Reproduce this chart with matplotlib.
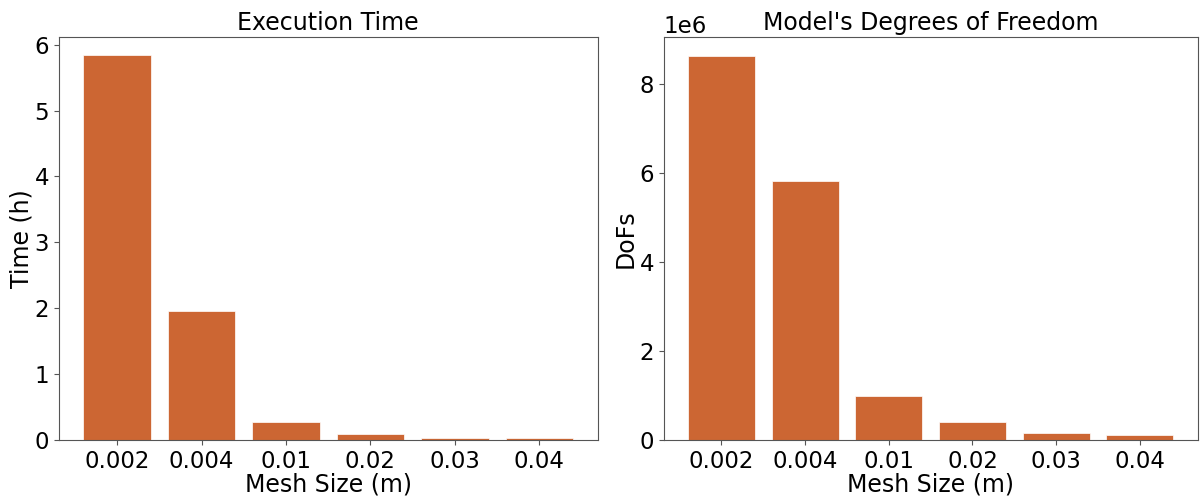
import matplotlib
matplotlib.use('Agg')
import matplotlib.pyplot as plt

# Mesh sizes and results
mesh_sizes = ['0.002', '0.004', '0.01', '0.02', '0.03', '0.04']
exec_time_h = [5.84, 1.95, 0.27, 0.09, 0.035, 0.035]
dofs = [8.63e6, 5.82e6, 0.99e6, 0.40e6, 0.165e6, 0.10e6]

bar_color = '#CC6633'

fig = plt.figure(figsize=(12, 4.97), dpi=100)
ax1 = fig.add_axes([0.049, 0.115, 0.449, 0.811])
ax2 = fig.add_axes([0.553, 0.115, 0.445, 0.811])

# Execution time
ax1.bar(mesh_sizes, exec_time_h, color=bar_color, edgecolor='white', linewidth=0.5)
ax1.set_title('Execution Time', fontsize=17, pad=5)
ax1.set_xlabel('Mesh Size (m)', fontsize=17, labelpad=0)
ax1.set_ylabel('Time (h)', fontsize=17, labelpad=1)
ax1.set_ylim(0, 6.12)
ax1.tick_params(labelsize=16.5)

# Degrees of freedom
ax2.bar(mesh_sizes, dofs, color=bar_color, edgecolor='white', linewidth=0.5)
ax2.set_title("Model's Degrees of Freedom", fontsize=17, pad=5)
ax2.set_xlabel('Mesh Size (m)', fontsize=17, labelpad=0)
ax2.set_ylabel('DoFs', fontsize=17, labelpad=1)
ax2.set_ylim(0, 9.06e6)
ax2.tick_params(labelsize=16.5)
ax2.yaxis.get_offset_text().set_fontsize(16.5)

for ax in (ax1, ax2):
    for sp in ax.spines.values():
        sp.set_color('#555555')
    ax.tick_params(color='#555555')

fig.savefig('out.png', dpi=100)
